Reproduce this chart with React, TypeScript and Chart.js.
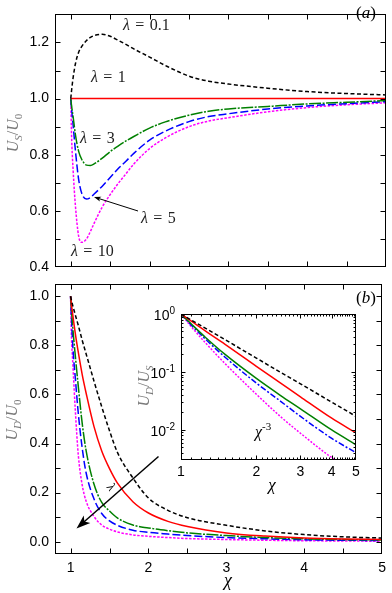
import React, { useEffect, useRef } from "react";
import { Chart, registerables } from "chart.js";
Chart.register(...registerables);

const W = 392;
const H = 593;
const SERIF = '"Liberation Serif", "DejaVu Serif", serif';
const SANS = '"Liberation Sans", Arial, sans-serif';
const GRAY = "#7a7a7a";

// ---------- Panel (a): U_S / U_0 ----------
const CHI_A = [1, 1.01, 1.03, 1.06, 1.1, 1.14, 1.2, 1.25, 1.3, 1.4, 1.5, 1.6, 1.7, 1.8, 2.0, 2.2, 2.5, 2.75, 3, 3.5, 4, 4.5, 5];
const US_L01 = [1.0, 1.028, 1.075, 1.125, 1.165, 1.186, 1.207, 1.218, 1.225, 1.229, 1.222, 1.208, 1.193, 1.177, 1.148, 1.118, 1.08, 1.062, 1.052, 1.037, 1.025, 1.018, 1.013];
const US_L1 = [1, 1, 1, 1, 1, 1, 1, 1, 1, 1, 1, 1, 1, 1, 1, 1, 1, 1, 1, 1, 1, 1, 1];
const US_L3 = [1.0, 0.975, 0.935, 0.87, 0.812, 0.783, 0.763, 0.762, 0.768, 0.788, 0.811, 0.831, 0.849, 0.865, 0.895, 0.917, 0.941, 0.955, 0.963, 0.972, 0.981, 0.987, 0.993];
const US_L5 = [1.0, 0.965, 0.905, 0.812, 0.712, 0.662, 0.642, 0.648, 0.661, 0.688, 0.719, 0.75, 0.777, 0.805, 0.852, 0.884, 0.918, 0.936, 0.946, 0.963, 0.974, 0.982, 0.989];
const US_L10 = [1.0, 0.87, 0.745, 0.615, 0.51, 0.488, 0.5, 0.527, 0.558, 0.614, 0.658, 0.697, 0.732, 0.767, 0.822, 0.86, 0.9, 0.92, 0.932, 0.953, 0.968, 0.978, 0.985];

// ---------- Panel (b): U_D / U_0 ----------
const CHI_B = [1, 1.01, 1.03, 1.06, 1.1, 1.15, 1.2, 1.3, 1.4, 1.5, 1.6, 1.8, 2.0, 2.25, 2.5, 3, 3.5, 4, 4.5, 5];
const UD_L01 = [1.0, 0.985, 0.96, 0.925, 0.88, 0.82, 0.765, 0.655, 0.55, 0.452, 0.365, 0.26, 0.178, 0.128, 0.098, 0.067, 0.044, 0.029, 0.02, 0.015];
const UD_L1 = [1.0, 0.97, 0.92, 0.85, 0.77, 0.68, 0.605, 0.47, 0.37, 0.298, 0.24, 0.163, 0.117, 0.083, 0.062, 0.036, 0.023, 0.015, 0.011, 0.009];
const UD_L3 = [1.0, 0.95, 0.865, 0.76, 0.63, 0.48, 0.37, 0.235, 0.16, 0.125, 0.097, 0.068, 0.056, 0.045, 0.036, 0.025, 0.017, 0.012, 0.009, 0.007];
const UD_L5 = [1.0, 0.92, 0.79, 0.67, 0.52, 0.38, 0.28, 0.175, 0.115, 0.085, 0.067, 0.047, 0.038, 0.031, 0.025, 0.017, 0.012, 0.008, 0.006, 0.005];
const UD_L10 = [1.0, 0.85, 0.72, 0.54, 0.35, 0.23, 0.165, 0.103, 0.068, 0.051, 0.04, 0.028, 0.022, 0.017, 0.013, 0.009, 0.006, 0.004, 0.003, 0.002];

// ---------- Inset: U_D / U_S (log-log) ----------
const CHI_C = [1, 1.1, 1.25, 1.5, 2, 2.5, 3, 4, 5];
const UDS_L01 = [1, 0.785, 0.57, 0.36, 0.173, 0.098, 0.062, 0.03, 0.017];
const UDS_L1 = [1, 0.75, 0.51, 0.3, 0.125, 0.064, 0.037, 0.0158, 0.0088];
const UDS_L3 = [1, 0.67, 0.397, 0.2, 0.077, 0.039, 0.023, 0.0099, 0.0055];
const UDS_L5 = [1, 0.64, 0.37, 0.179, 0.064, 0.031, 0.017, 0.0071, 0.004];
const UDS_L10 = [1, 0.6, 0.32, 0.139, 0.041, 0.0168, 0.0087, 0.0033, 0.0018];

const LAMBDAS = ["0.1", "1", "3", "5", "10"];
const X_TICKS = [1, 2, 3, 4, 5];
const YA_TICKS = [0.4, 0.6, 0.8, 1.0, 1.2];
const YB_TICKS = [0, 0.2, 0.4, 0.6, 0.8, 1.0];
const YC_EXP = [0, -1, -2];

const COLORS = ["#000000", "#ff0000", "#008000", "#0000ff", "#ff00ff"];
const DASH_MAIN = [[4, 2.5], [], [12, 1.5, 2, 1.5], [8, 3], [2.5, 1.5]];
const DASH_INSET = [[4, 2.5], [], [], [6, 2, 2, 2], [2, 1.5]];

const range = (a: number, b: number, s: number) => {
  const out: number[] = [];
  for (let v = a; v <= b + 1e-9; v += s) out.push(Math.round(v * 1000) / 1000);
  return out;
};

function datasets(xs: number[], series: number[][], dashes: number[][]) {
  return series.map((ys, i) => ({
    label: "λ = " + LAMBDAS[i],
    data: xs.map((x, j) => ({ x, y: ys[j] })),
    borderColor: COLORS[i],
    borderDash: dashes[i],
    borderWidth: 1.5,
    pointRadius: 0,
    fill: false,
    cubicInterpolationMode: "monotone" as const,
  }));
}

type Part = { t: string; it?: boolean; sub?: boolean; sup?: boolean };
function drawParts(ctx: CanvasRenderingContext2D, parts: Part[], x: number, y: number, size: number, align: "left" | "center" | "right" = "left", family = SERIF) {
  const f = (p: Part) => `${p.it ? "italic " : ""}${p.sub || p.sup ? Math.round(size * 0.68) : size}px ${family}`;
  let w = 0;
  for (const p of parts) {
    ctx.font = f(p);
    w += ctx.measureText(p.t).width;
  }
  let cx = align === "left" ? x : align === "center" ? x - w / 2 : x - w;
  ctx.textBaseline = "alphabetic";
  ctx.textAlign = "left";
  for (const p of parts) {
    ctx.font = f(p);
    const dy = p.sub ? size * 0.28 : p.sup ? -size * 0.42 : 0;
    ctx.fillText(p.t, cx, y + dy);
    cx += ctx.measureText(p.t).width;
  }
}

function arrow(ctx: CanvasRenderingContext2D, x1: number, y1: number, x2: number, y2: number, hl: number, hw: number, lw: number) {
  const a = Math.atan2(y2 - y1, x2 - x1);
  const c = Math.cos(a), s = Math.sin(a);
  ctx.lineWidth = lw;
  ctx.beginPath();
  ctx.moveTo(x1, y1);
  ctx.lineTo(x2 - c * hl * 0.7, y2 - s * hl * 0.7);
  ctx.stroke();
  ctx.beginPath();
  ctx.moveTo(x2, y2);
  ctx.lineTo(x2 - c * hl - s * hw / 2, y2 - s * hl + c * hw / 2);
  ctx.lineTo(x2 - c * hl * 0.75, y2 - s * hl * 0.75);
  ctx.lineTo(x2 - c * hl + s * hw / 2, y2 - s * hl - c * hw / 2);
  ctx.closePath();
  ctx.fill();
}

type FrameCfg = { xMajor: number[]; xMinor: number[]; yMajor: number[]; yMinor: number[]; major: number; minor: number };
function framePlugin(cfg: FrameCfg) {
  return {
    id: "frame",
    afterDatasetsDraw(chart: any) {
      const { ctx, chartArea: a, scales } = chart;
      ctx.save();
      ctx.strokeStyle = "#000";
      ctx.lineWidth = 1;
      ctx.setLineDash([]);
      const L = Math.round(a.left) + 0.5, R = Math.round(a.right) - 0.5;
      const T = Math.round(a.top) + 0.5, B = Math.round(a.bottom) - 0.5;
      ctx.strokeRect(L, T, R - L, B - T);
      ctx.beginPath();
      const xs: [number[], number][] = [[cfg.xMajor, cfg.major], [cfg.xMinor, cfg.minor]];
      for (const [vals, len] of xs) {
        for (const v of vals) {
          const p = Math.round(scales.x.getPixelForValue(v)) + 0.5;
          if (p < L - 0.1 || p > R + 0.1) continue;
          ctx.moveTo(p, B); ctx.lineTo(p, B - len);
          ctx.moveTo(p, T); ctx.lineTo(p, T + len);
        }
      }
      const ys: [number[], number][] = [[cfg.yMajor, cfg.major], [cfg.yMinor, cfg.minor]];
      for (const [vals, len] of ys) {
        for (const v of vals) {
          const p = Math.round(scales.y.getPixelForValue(v)) + 0.5;
          if (p < T - 0.1 || p > B + 0.1) continue;
          ctx.moveTo(L, p); ctx.lineTo(L + len, p);
          ctx.moveTo(R, p); ctx.lineTo(R - len, p);
        }
      }
      ctx.stroke();
      ctx.restore();
    },
  };
}

function textPlugin(draw: (ctx: CanvasRenderingContext2D, chart: any) => void) {
  return {
    id: "texts",
    afterDraw(chart: any) {
      const ctx = chart.ctx as CanvasRenderingContext2D;
      ctx.save();
      ctx.fillStyle = "#000";
      ctx.strokeStyle = "#000";
      draw(ctx, chart);
      ctx.restore();
    },
  };
}

const tickFont = { family: SANS, size: 14 };

function yTitle(ctx: CanvasRenderingContext2D, parts: Part[], x: number, y: number, size: number) {
  ctx.save();
  ctx.fillStyle = GRAY;
  ctx.translate(x, y);
  ctx.rotate(-Math.PI / 2);
  drawParts(ctx, parts, 0, 0, size, "center");
  ctx.restore();
}

function lam(ctx: CanvasRenderingContext2D, v: string, x: number, y: number) {
  ctx.save();
  ctx.fillStyle = "#222";
  drawParts(ctx, [{ t: "λ", it: true }, { t: "\u2004=\u2004" + v }], x, y, 16);
  ctx.restore();
}

function configA(): any {
  return {
    type: "line",
    data: { datasets: datasets(CHI_A, [US_L01, US_L1, US_L3, US_L5, US_L10], DASH_MAIN) },
    options: {
      responsive: false,
      animation: false,
      devicePixelRatio: 1,
      events: [],
      layout: { padding: { left: 0, right: 6, top: 1, bottom: 326 } },
      plugins: { legend: { display: false }, tooltip: { enabled: false } },
      scales: {
        x: { type: "linear", min: 0.8, max: 5, display: false },
        y: {
          type: "linear", min: 0.4, max: 1.3,
          afterFit: (s: any) => { s.width = 55; },
          afterBuildTicks: (s: any) => { s.ticks = YA_TICKS.map((v) => ({ value: v })); },
          ticks: { callback: (v: any) => Number(v).toFixed(1), font: tickFont, color: "#000", padding: 6, autoSkip: false },
          grid: { display: false, drawTicks: false },
          border: { display: false },
        },
      },
    },
    plugins: [
      framePlugin({ xMajor: range(1, 5, 0.5), xMinor: [], yMajor: range(0.4, 1.3, 0.1), yMinor: [], major: 5, minor: 3 }),
      textPlugin((ctx) => {
        lam(ctx, LAMBDAS[0], 123, 30);
        lam(ctx, LAMBDAS[1], 91, 81.5);
        lam(ctx, LAMBDAS[2], 80, 142.5);
        lam(ctx, LAMBDAS[3], 141, 222.5);
        lam(ctx, LAMBDAS[4], 71, 256);
        drawParts(ctx, [{ t: "(" }, { t: "a", it: true }, { t: ")" }], 356, 18, 17);
        arrow(ctx, 138, 211, 94, 197, 7, 5, 1);
        yTitle(ctx, [{ t: "U", it: true }, { t: "S", it: true, sub: true }, { t: "/" }, { t: "U", it: true }, { t: "0", sub: true }], 17.5, 133, 16);
      }),
    ],
  };
}

function configB(): any {
  return {
    type: "line",
    data: { datasets: datasets(CHI_B, [UD_L01, UD_L1, UD_L3, UD_L5, UD_L10], DASH_MAIN) },
    options: {
      responsive: false,
      animation: false,
      devicePixelRatio: 1,
      events: [],
      layout: { padding: { left: 0, right: 6, top: 284, bottom: 0 } },
      plugins: { legend: { display: false }, tooltip: { enabled: false } },
      scales: {
        x: {
          type: "linear", min: 0.8, max: 5,
          afterFit: (s: any) => { s.height = 39; },
          afterBuildTicks: (s: any) => { s.ticks = X_TICKS.map((v) => ({ value: v })); },
          ticks: { callback: (v: any) => String(v), font: tickFont, color: "#000", padding: 6, autoSkip: false, maxRotation: 0 },
          grid: { display: false, drawTicks: false },
          border: { display: false },
        },
        y: {
          type: "linear", min: -0.05, max: 1.05,
          afterFit: (s: any) => { s.width = 55; },
          afterBuildTicks: (s: any) => { s.ticks = YB_TICKS.map((v) => ({ value: v })); },
          ticks: { callback: (v: any) => Number(v).toFixed(1), font: tickFont, color: "#000", padding: 6, autoSkip: false },
          grid: { display: false, drawTicks: false },
          border: { display: false },
        },
      },
    },
    plugins: [
      framePlugin({ xMajor: range(1, 5, 0.5), xMinor: [], yMajor: range(0, 1, 0.1), yMinor: [], major: 5, minor: 3 }),
      textPlugin((ctx) => {
        drawParts(ctx, [{ t: "(" }, { t: "b", it: true }, { t: ")" }], 356, 302.5, 17);
        drawParts(ctx, [{ t: "χ", it: true }], 228, 586, 18, "center");
        arrow(ctx, 158.5, 456.5, 76.5, 528.5, 14, 10, 1.5);
        ctx.save();
        ctx.translate(111, 487);
        ctx.rotate(0.87);
        drawParts(ctx, [{ t: "λ", it: true }], 0, 4, 13, "center");
        ctx.restore();
        yTitle(ctx, [{ t: "U", it: true }, { t: "D", it: true, sub: true }, { t: "/" }, { t: "U", it: true }, { t: "0", sub: true }], 16.5, 420, 16);
      }),
    ],
  };
}

function configC(): any {
  const yMinor: number[] = [];
  for (const e of [-3, -2, -1]) for (let k = 2; k <= 9; k++) yMinor.push(k * Math.pow(10, e));
  return {
    type: "line",
    data: { datasets: datasets(CHI_C, [UDS_L01, UDS_L1, UDS_L3, UDS_L5, UDS_L10], DASH_INSET) },
    options: {
      responsive: false,
      animation: false,
      devicePixelRatio: 1,
      events: [],
      layout: { padding: { left: 151, right: 36, top: 314, bottom: 113 } },
      plugins: { legend: { display: false }, tooltip: { enabled: false } },
      scales: {
        x: {
          type: "logarithmic", min: 1, max: 5,
          afterFit: (s: any) => { s.height = 20; },
          afterBuildTicks: (s: any) => { s.ticks = X_TICKS.map((v) => ({ value: v })); },
          ticks: { callback: (v: any) => String(v), font: tickFont, color: "#000", padding: 4, autoSkip: false, maxRotation: 0 },
          grid: { display: false, drawTicks: false },
          border: { display: false },
        },
        y: {
          type: "logarithmic", min: 0.003, max: 1,
          afterFit: (s: any) => { s.width = 30; },
          ticks: { display: false },
          grid: { display: false, drawTicks: false },
          border: { display: false },
        },
      },
    },
    plugins: [
      {
        id: "insetBg",
        beforeDraw(chart: any) {
          const { ctx, chartArea: a } = chart;
          ctx.save();
          ctx.fillStyle = "#fff";
          ctx.fillRect(a.left, a.top, a.right - a.left, a.bottom - a.top);
          ctx.restore();
        },
      },
      framePlugin({ xMajor: X_TICKS, xMinor: range(1.1, 4.9, 0.1), yMajor: YC_EXP.map((e) => Math.pow(10, e)), yMinor, major: 4, minor: 2 }),
      textPlugin((ctx, chart) => {
        const sy = chart.scales.y;
        for (const e of YC_EXP) {
          const y = sy.getPixelForValue(Math.pow(10, e));
          drawParts(ctx, [{ t: "10" }, { t: String(e), sup: true }], 175, y + 6, 14, "right", SANS);
        }
        drawParts(ctx, [{ t: "χ", it: true }], 272, 489.5, 17, "center");
        drawParts(ctx, [{ t: "χ", it: true }, { t: "-3", sup: true }], 255, 437, 16);
        yTitle(ctx, [{ t: "U", it: true }, { t: "D", it: true, sub: true }, { t: "/" }, { t: "U", it: true }, { t: "S", it: true, sub: true }], 148.5, 386, 16);
      }),
    ],
  };
}

export default function App() {
  const refA = useRef<HTMLCanvasElement>(null);
  const refB = useRef<HTMLCanvasElement>(null);
  const refC = useRef<HTMLCanvasElement>(null);
  useEffect(() => {
    const charts = [
      new Chart(refB.current!, configB()),
      new Chart(refA.current!, configA()),
      new Chart(refC.current!, configC()),
    ];
    return () => charts.forEach((c) => c.destroy());
  }, []);
  const cs: React.CSSProperties = { position: "absolute", left: 0, top: 0, width: W, height: H };
  return (
    <div style={{ position: "fixed", left: 0, top: 0, width: W, height: H, background: "#fff" }}>
      <canvas ref={refB} width={W} height={H} style={cs} />
      <canvas ref={refA} width={W} height={H} style={cs} />
      <canvas ref={refC} width={W} height={H} style={cs} />
    </div>
  );
}
